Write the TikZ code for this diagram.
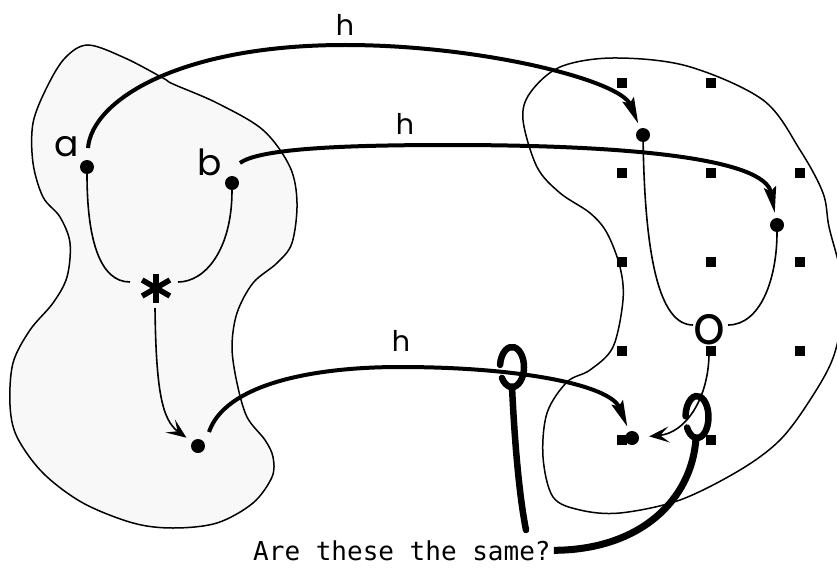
\documentclass[tikz,border=0pt]{standalone}
\usepackage{fontspec}
\usepackage{graphicx}
\newfontfamily\labelfont{Poppins}
\newfontfamily\captionfont{DejaVu Sans Mono}
\usetikzlibrary{arrows.meta}
\definecolor{blobgrey}{HTML}{F8F8F8}
\begin{document}
\begin{tikzpicture}[x=1pt,y=-1pt,
  pt/.style={circle,fill=black,inner sep=0pt,minimum size=14pt},
  sq/.style={fill=black,inner sep=0pt,minimum size=9.5pt},
  lbl/.style={inner sep=0pt,font=\labelfont\fontsize{36}{40}\selectfont},
  hlbl/.style={inner sep=0pt,font=\labelfont\fontsize{28.5}{32}\selectfont},
  wire/.style={line width=1.6pt},
  wirearrow/.style={wire,-{Stealth[length=20pt,width=16pt,inset=9pt]}},
  map/.style={line width=4pt,-{Stealth[length=26pt,width=12pt,inset=4pt]}},
  hook/.style={line width=6.5pt,line cap=round},
  blob/.style={line width=1.5pt}]
\useasboundingbox (0,0) rectangle (837,567);
\clip (0,0) rectangle (837,567);

% domain (shaded region)
\draw[blob,fill=blobgrey] plot[smooth cycle,tension=0.55] coordinates {
  (88,45) (125,58) (163,78) (173,84) (217,103) (263,130) (290,167) (297,203)
  (292,243) (277,263) (253,283) (237,313) (232,347) (237,383) (247,417)
  (265,440) (273,457) (272,477) (253,503) (217,523) (173,528) (133,523)
  (83,503) (43,473) (17,437) (10,405) (13,363) (30,330) (53,303) (67,277)
  (70,243) (60,217) (43,197) (33,163) (33,123) (47,87) (65,58)};

% codomain outline
\draw[blob] plot[smooth cycle,tension=0.55] coordinates {
  (613,58) (687,66) (763,100) (800,150) (823,193) (829,227) (840,270)
  (843,310) (833,358) (810,400) (780,440) (740,470) (680,500) (620,513)
  (580,510) (553,497) (543,457) (547,413) (567,382) (590,370) (613,347)
  (623,300) (620,267) (607,233) (590,213) (560,193) (537,167) (523,120)
  (530,93) (560,67)};

% grid of squares in the codomain
\foreach \gx/\gy in {622/83,711/83,
  622/173,711/173,800/173,
  622/262,711/262,800/262,
  622/351,711/351,800/351,
  622/440,711/440}
  \node[sq] (s-\gx-\gy) at (\gx,\gy) {};

% points
\node[pt] (pa) at (87,167) {};
\node[pt] (pb) at (232,183) {};
\node[pt] (pc) at (198,446) {};
\node[pt] (qa) at (643,135) {};
\node[pt] (qb) at (777,225) {};
\node[pt] (qc) at (632,438) {};

% labels
\node[lbl] (la) at (67,147) {a};
\node[lbl] (lb) at (210,162) {b};
\node[inner sep=0pt,font=\labelfont\fontsize{54}{58}\selectfont] (lo) at (709,330) {\scalebox{0.92}[1]{o}};
\node[hlbl] (h1) at (345,25) {h};
\node[hlbl] (h2) at (405,124) {h};
\node[hlbl] (h3) at (401,341) {h};

% the operation symbol
\coordinate (star) at (156,288);
\draw[line width=5.5pt] ([shift={(90:14.5)}]star) -- ([shift={(-90:14.5)}]star);
\draw[line width=5.5pt] ([shift={(30:16)}]star) -- ([shift={(210:16)}]star);
\draw[line width=5.5pt] ([shift={(150:16)}]star) -- ([shift={(-30:16)}]star);
\coordinate (starL) at (130,282);
\coordinate (starR) at (178,282);
\coordinate (starB) at (155,308);
\coordinate (oL) at (693,325);
\coordinate (oR) at (728,325);
\coordinate (oB) at (709,355);
\coordinate (ha) at (88,148);
\coordinate (hb) at (240,163);
\coordinate (hc) at (209,432);

% structure in the domain
\draw[wire] (pa) .. controls (87,240) and (100,282) .. (starL);
\draw[wire] (pb) .. controls (232,250) and (205,282) .. (starR);
\draw[wirearrow,shorten >=7pt] (starB) .. controls (156,390) and (162,420) .. (pc);

% structure in the codomain
\draw[wire] (qa) .. controls (645,260) and (660,325) .. (oL);
\draw[wire] (qb) .. controls (777,280) and (760,325) .. (oR);
\draw[wirearrow,shorten >=10pt] (oB) .. controls (708,400) and (685,433) .. (qc);

% the map h
\draw[map,shorten >=5pt] (ha) .. controls (92,100) and (180,45) .. (345,45)
  .. controls (480,45) and (620,80) .. (qa);
\draw[map,shorten >=5pt] (hb) .. controls (260,148) and (350,145) .. (450,145)
  .. controls (640,145) and (765,160) .. (qb);
\draw[map,shorten >=5pt] (hc) .. controls (225,385) and (310,367) .. (400,367)
  .. controls (520,367) and (610,385) .. (qc);

% question and hooks
\node[anchor=base west,inner sep=0pt,font=\captionfont\fontsize{26}{30}\selectfont] (q) at (253,560) {Are these the same?};
\draw[hook] (512,367) ++(147:12 and 20) arc[start angle=147,end angle=-174,x radius=12,y radius=20];
\draw[hook] (512,387) .. controls (515,450) and (520,500) .. (526,530);
\draw[hook] (697,417) ++(150:11.5 and 21) arc[start angle=150,end angle=-178,x radius=11.5,y radius=21];
\draw[hook,line width=7pt,line cap=butt] ([xshift=3pt]q.east) .. controls (640,550) and (692,500) .. (696,438);
\end{tikzpicture}
\end{document}
